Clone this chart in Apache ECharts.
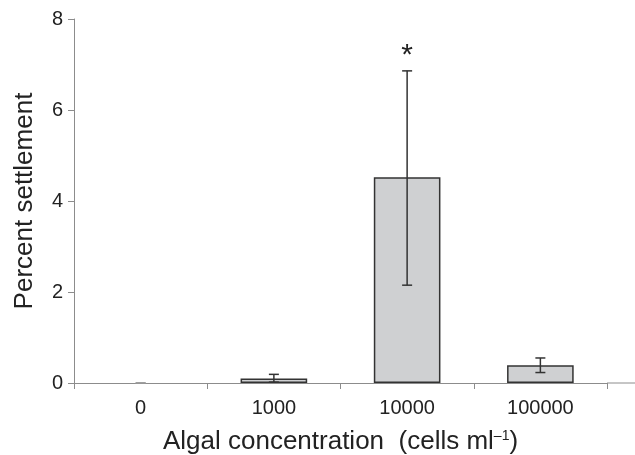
<!DOCTYPE html>
<html>
<head>
<meta charset="utf-8">
<script src="https://cdn.jsdelivr.net/npm/echarts@6/dist/echarts.min.js"></script>
<style>
  html, body { margin: 0; padding: 0; background: #fff; }
  #chart { width: 635px; height: 455px; }
</style>
</head>
<body>
<div id="chart"></div>
<script>
// algal concentration categories (cells per ml)
const categories = ['0', '1000', '10000', '100000'];
// mean percent settlement
const meanValues = [0, 0.1, 4.52, 0.39];
// error bar ends
const errLow = [0, 0.02, 2.15, 0.23];
const errHigh = [0, 0.19, 6.86, 0.55];
// significance marks
const sigMarks = ['', '', '*', ''];
const yTicks = [0, 2, 4, 6, 8];

const gridLeft = 74, gridRight = 28, gridTop = 19, gridBottom = 72;
const textColor = '#222';
const axisColor = '#8c8c8c';
const font = 'Liberation Sans, Arial, Helvetica, sans-serif';

const chart = echarts.init(document.getElementById('chart'));

const errData = categories.map((c, i) => [i, errLow[i], errHigh[i], sigMarks[i]]);

// a zero bar has no visible outline
const barData = meanValues.map(v => v === 0
  ? { value: v, itemStyle: { borderWidth: 0 } }
  : v);

const options = {
  animation: false,
  backgroundColor: '#fff',
  grid: {
    left: gridLeft, right: gridRight, top: gridTop, bottom: gridBottom,
    outerBoundsMode: 'none'
  },
  xAxis: {
    type: 'category',
    data: categories,
    boundaryGap: true,
    name: '{a|Algal concentration  (cells ml}{s|–1}{a|)}',
    nameLocation: 'middle',
    nameGap: 46,
    nameTextStyle: {
      rich: {
        a: { fontSize: 26, fontFamily: font, color: textColor },
        s: { fontSize: 14, fontFamily: font, color: textColor, verticalAlign: 'top', padding: [0, 0, 10, 0] }
      }
    },
    axisLine: { lineStyle: { color: axisColor, width: 1 } },
    axisTick: { show: true, length: 6, lineStyle: { color: axisColor } },
    axisLabel: { fontSize: 20, fontFamily: font, color: textColor, margin: 15 }
  },
  yAxis: {
    type: 'value',
    min: 0,
    max: 8,
    interval: 2,
    name: 'Percent settlement',
    nameLocation: 'middle',
    nameGap: 36,
    nameTextStyle: { fontSize: 26, fontFamily: font, color: textColor },
    axisLine: { show: true, lineStyle: { color: axisColor, width: 1 } },
    axisTick: { show: true, length: 6, lineStyle: { color: axisColor } },
    splitLine: { show: false },
    axisLabel: {
      fontSize: 20, fontFamily: font, color: textColor, margin: 11,
      formatter: v => yTicks.includes(v) ? String(v) : ''
    }
  },
  series: [
    {
      name: 'Percent settlement',
      type: 'bar',
      data: barData,
      barWidth: '50%',
      itemStyle: { color: '#cfd0d2', borderColor: '#333', borderWidth: 1.5 }
    },
    {
      name: 'error',
      type: 'custom',
      data: errData,
      z: 10,
      renderItem: function (params, api) {
        const x = api.value(0);
        const lo = api.coord([x, api.value(1)]);
        const hi = api.coord([x, api.value(2)]);
        const half = 5;
        const stroke = api.value(2) === 0 ? '#999' : '#333';
        const style = { stroke: stroke, lineWidth: 1.5 };
        const children = [
          { type: 'line', shape: { x1: lo[0], y1: lo[1], x2: hi[0], y2: hi[1] }, style: style },
          { type: 'line', shape: { x1: lo[0] - half, y1: lo[1], x2: lo[0] + half, y2: lo[1] }, style: style },
          { type: 'line', shape: { x1: hi[0] - half, y1: hi[1], x2: hi[0] + half, y2: hi[1] }, style: style }
        ];
        const mark = errData[params.dataIndex][3];
        if (mark) {
          children.push({
            type: 'text',
            style: {
              text: mark, x: hi[0], y: hi[1],
              align: 'center', verticalAlign: 'bottom',
              fontSize: 30, fontFamily: font, fill: textColor
            }
          });
        }
        return { type: 'group', children: children };
      }
    }
  ],
  graphic: [
    {
      // axis line continues past the last category
      type: 'line',
      shape: { x1: 635 - gridRight, y1: 455 - gridBottom, x2: 635, y2: 455 - gridBottom },
      style: { stroke: axisColor, lineWidth: 1 }
    }
  ]
};

chart.setOption(options);
</script>
</body>
</html>
